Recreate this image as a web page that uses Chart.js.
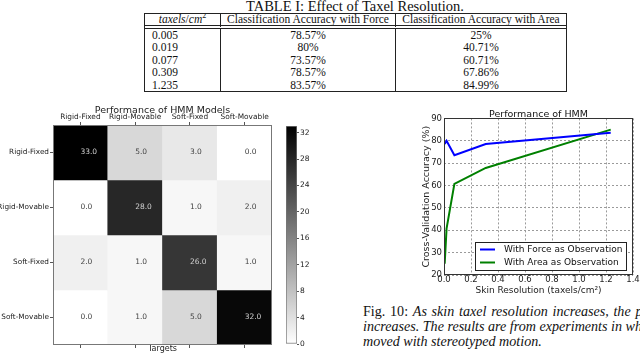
<!DOCTYPE html>
<html>
<head>
<meta charset="utf-8">
<script src="https://cdn.jsdelivr.net/npm/chart.js@4.4.0/dist/chart.umd.min.js"></script>
<style>
  body { margin: 0; width: 640px; height: 354px; position: relative; overflow: hidden; background: #fff; }
  .abs { position: absolute; }
  .serif { font-family: "Liberation Serif", serif; color: #111; }
  #tblTitle { left: 144px; top: 0; width: 422px; text-align: center; font-size: 14.5px; line-height: 13px; }
  #tbl { left: 144px; top: 13px; width: 421px; border-collapse: separate; border-spacing: 0; border: 1px solid #222;
         table-layout: fixed; font-size: 11.5px; }
  #tbl td { padding: 0 5px; line-height: 12.4px; height: 12.4px; text-align: center; white-space: nowrap; overflow: hidden; }
  #tbl td + td { border-left: 1px solid #222; }
  #tbl tr.head td { border-bottom: 4px double #222; line-height: 11px; height: 11px; }
  #tbl tr.body td:first-child { text-align: left; padding-left: 7px; }
  #caption { left: 363px; top: 304px; font-size: 14.1px; line-height: 15px; white-space: nowrap; }
  #caption .wide { word-spacing: 1.2px; }
  #heat { left: 0; top: 98px; }
  #cbar { left: 280px; top: 98px; }
  #perf { left: 400px; top: 98px; }
</style>
</head>
<body>
<div id="tblTitle" class="abs serif">TABLE I: Effect of Taxel Resolution.</div>
<table id="tbl" class="abs serif">
  <colgroup><col style="width:75px"><col style="width:175px"><col style="width:171px"></colgroup>
  <tbody id="tblBody"></tbody>
</table>
<div id="caption" class="abs serif"><span class="wide">Fig. 10: <i>As skin taxel resolution increases, the performance</i></span><br><i>increases. The results are from experiments in which</i><br><i>moved with stereotyped motion.</i></div>
<canvas id="heat" class="abs" width="280" height="256"></canvas>
<canvas id="cbar" class="abs" width="40" height="256"></canvas>
<canvas id="perf" class="abs" width="240" height="200"></canvas>
<script>
// table / line chart data
const taxels = [0.005, 0.019, 0.077, 0.309, 1.235];
const taxelLabels = ['0.005', '0.019', '0.077', '0.309', '1.235'];
const forceAcc = [78.57, 80, 73.57, 78.57, 83.57];
const areaAcc = [25, 40.71, 60.71, 67.86, 84.99];
const xTicks = [0, 0.2, 0.4, 0.6, 0.8, 1.0, 1.2, 1.4];

// confusion matrix data
const classes = ['Rigid-Fixed', 'Rigid-Movable', 'Soft-Fixed', 'Soft-Movable'];
const confusion = [
    [33, 5, 3, 0],
    [0, 28, 1, 2],
    [2, 1, 26, 1],
    [0, 1, 5, 32]
];
const colorMax = 33;
const cbarTicks = [0, 4, 8, 12, 16, 20, 24, 28, 32];

Chart.defaults.font.family = '"DejaVu Sans", sans-serif';
Chart.defaults.color = '#222';
Chart.defaults.animation = false;

// build the table
const tbody = document.getElementById('tblBody');
let html = '<tr class="head"><td><i>taxels</i>/<i>cm</i><sup style="font-size:8px;line-height:0">2</sup></td>' +
    '<td>Classification Accuracy with Force</td><td>Classification Accuracy with Area</td></tr>';
taxelLabels.forEach((t, i) => {
    html += `<tr class="body"><td>${t}</td><td>${forceAcc[i]}%</td><td>${areaAcc[i]}%</td></tr>`;
});
tbody.innerHTML = html;

function gray(v) {
    const g = Math.round(255 * (1 - v / colorMax));
    return `rgb(${g},${g},${g})`;
}

// numbers in the cells + frame
const cellText = {
    id: 'cellText',
    afterDatasetsDraw(chart) {
        const ctx = chart.ctx;
        ctx.save();
        ctx.font = '7.5px "DejaVu Sans"';
        ctx.textAlign = 'left';
        ctx.textBaseline = 'alphabetic';
        chart.data.datasets.forEach((ds, i) => {
            chart.getDatasetMeta(i).data.forEach((bar, j) => {
                const v = confusion[i][j];
                ctx.fillStyle = v > 16 ? '#cfcfcf' : '#444';
                ctx.fillText(v.toFixed(1), bar.x, (bar.y + bar.base) / 2 + 1);
            });
        });
        const a = chart.chartArea;
        ctx.strokeStyle = '#777';
        ctx.lineWidth = 1;
        ctx.strokeRect(a.left + 0.5, a.top + 0.5, a.width - 1, a.height - 1);
        ctx.restore();
    }
};

new Chart(document.getElementById('heat'), {
    type: 'bar',
    data: {
        labels: classes,
        datasets: confusion.map((row, i) => ({
            label: classes[i],
            data: row.map(() => [i, i + 1]),
            backgroundColor: row.map(gray),
            borderWidth: 0,
            grouped: false,
            barPercentage: 1,
            categoryPercentage: 1,
            xAxisID: 'x'
        }))
    },
    options: {
        responsive: false,
        layout: { padding: { left: 0, right: 8, top: 0, bottom: 0 } },
        plugins: { legend: { display: false }, tooltip: { enabled: false } },
        scales: {
            x: {
                type: 'category',
                position: 'top',
                offset: true,
                grid: { drawOnChartArea: false, offset: false, tickLength: 3, color: '#555' },
                ticks: { font: { size: 7.4 }, padding: 0, autoSkip: false, maxRotation: 0 },
                border: { display: false },
                title: { display: true, text: 'Performance of HMM Models', font: { size: 9.5 }, padding: { top: 7, bottom: 0 } },
                afterFit: s => { s.height = 27; }
            },
            xb: {
                type: 'category',
                labels: classes,
                position: 'bottom',
                offset: true,
                grid: { drawOnChartArea: false, offset: false, tickLength: 3, color: '#555' },
                ticks: { display: false },
                border: { display: false },
                title: { display: true, text: 'Targets', font: { size: 8 }, padding: 0 },
                afterFit: s => { s.height = 9; }
            },
            y: {
                min: 0,
                max: 4,
                reverse: true,
                afterBuildTicks: ax => { ax.ticks = classes.map((c, i) => ({ value: i + 0.5 })); },
                ticks: { callback: v => classes[Math.floor(v)], font: { size: 7.3 }, padding: 1, autoSkip: false },
                grid: { drawOnChartArea: false, tickLength: 3, color: '#555' },
                border: { display: false },
                afterFit: s => { s.width = 53; }
            }
        }
    },
    plugins: [cellText]
});

// colour bar
new Chart(document.getElementById('cbar'), {
    type: 'bar',
    data: {
        labels: [''],
        datasets: [{
            data: [[0, colorMax]],
            backgroundColor: c => {
                const a = c.chart.chartArea;
                if (!a) return '#888';
                const g = c.chart.ctx.createLinearGradient(0, a.bottom, 0, a.top);
                g.addColorStop(0, '#ffffff');
                g.addColorStop(1, '#000000');
                return g;
            },
            borderColor: '#777',
            borderWidth: 1,
            borderSkipped: false,
            barPercentage: 1,
            categoryPercentage: 1
        }]
    },
    options: {
        responsive: false,
        layout: { padding: { left: 6, right: 0, top: 28, bottom: 10 } },
        plugins: { legend: { display: false }, tooltip: { enabled: false } },
        scales: {
            x: { display: false },
            y: {
                position: 'right',
                min: 0,
                max: colorMax,
                afterBuildTicks: ax => { ax.ticks = cbarTicks.map(v => ({ value: v })); },
                ticks: { font: { size: 7.5 }, padding: 1 },
                grid: { drawOnChartArea: false, tickLength: 2, color: '#555' },
                border: { display: false },
                afterFit: s => { s.width = 23; }
            }
        }
    }
});

// frame + legend inside the plot
const frame = {
    id: 'frame',
    afterDatasetsDraw(chart) {
        const { ctx, chartArea: a } = chart;
        ctx.save();
        ctx.strokeStyle = '#333';
        ctx.lineWidth = 1;
        ctx.strokeRect(Math.round(a.left) + 0.5, Math.round(a.top) + 0.5, Math.round(a.width) - 1, Math.round(a.height) - 1);
        ctx.restore();
    }
};
const insideLegend = {
    id: 'insideLegend',
    afterDraw(chart) {
        const { ctx, chartArea: a } = chart;
        const w = 151, h = 28;
        const x = Math.round(a.right - 7 - w), y = Math.round(a.bottom - 5 - h);
        ctx.save();
        ctx.fillStyle = '#fff';
        ctx.fillRect(x, y, w, h);
        ctx.strokeStyle = '#222';
        ctx.lineWidth = 1;
        ctx.strokeRect(x + 0.5, y + 0.5, w, h);
        ctx.font = '9px "DejaVu Sans"';
        ctx.textBaseline = 'middle';
        chart.data.datasets.forEach((ds, i) => {
            const ly = y + 7.5 + i * 13;
            ctx.strokeStyle = ds.borderColor;
            ctx.lineWidth = 2;
            ctx.beginPath();
            ctx.moveTo(x + 5, ly);
            ctx.lineTo(x + 20, ly);
            ctx.stroke();
            ctx.fillStyle = '#111';
            ctx.fillText(ds.label, x + 29, ly);
        });
        ctx.restore();
    }
};

const gridStyle = { color: '#9a9a9a', drawTicks: false };
new Chart(document.getElementById('perf'), {
    type: 'scatter',
    data: {
        datasets: [
            {
                label: 'With Force as Observation',
                data: taxels.map((t, i) => ({ x: t, y: forceAcc[i] })),
                borderColor: '#0000ff',
                borderWidth: 2,
                showLine: true,
                pointRadius: 0,
                tension: 0
            },
            {
                label: 'With Area as Observation',
                data: taxels.map((t, i) => ({ x: t, y: areaAcc[i] })),
                borderColor: '#008000',
                borderWidth: 2,
                showLine: true,
                pointRadius: 0,
                tension: 0
            }
        ]
    },
    options: {
        responsive: false,
        layout: { padding: { left: 0, right: 7, top: 0, bottom: 0 } },
        plugins: {
            legend: { display: false },
            tooltip: { enabled: false },
            title: {
                display: true,
                text: 'Performance of HMM',
                fullSize: false,
                color: '#111',
                font: { size: 9.5, weight: 'normal' },
                padding: { top: 11, bottom: -2 }
            }
        },
        scales: {
            x: {
                type: 'linear',
                min: 0,
                max: 1.4,
                afterBuildTicks: ax => { ax.ticks = xTicks.map(v => ({ value: v })); },
                ticks: { callback: v => v.toFixed(1), font: { size: 8.5 }, padding: 0 },
                grid: gridStyle,
                border: { display: false, dash: [2, 2] },
                title: { display: true, text: 'Skin Resolution (taxels/cm²)', font: { size: 9 }, padding: { top: 0, bottom: 2 } },
                afterFit: s => { s.height = 23; }
            },
            y: {
                min: 20,
                max: 90,
                ticks: { stepSize: 10, font: { size: 8.5 }, padding: 2 },
                grid: gridStyle,
                border: { display: false, dash: [2, 2] },
                title: { display: true, text: 'Cross-Validation Accuracy (%)', font: { size: 9.5 }, padding: { top: 21, bottom: 0 } },
                afterFit: s => { s.width = 44; }
            }
        }
    },
    plugins: [frame, insideLegend]
});
</script>
</body>
</html>
